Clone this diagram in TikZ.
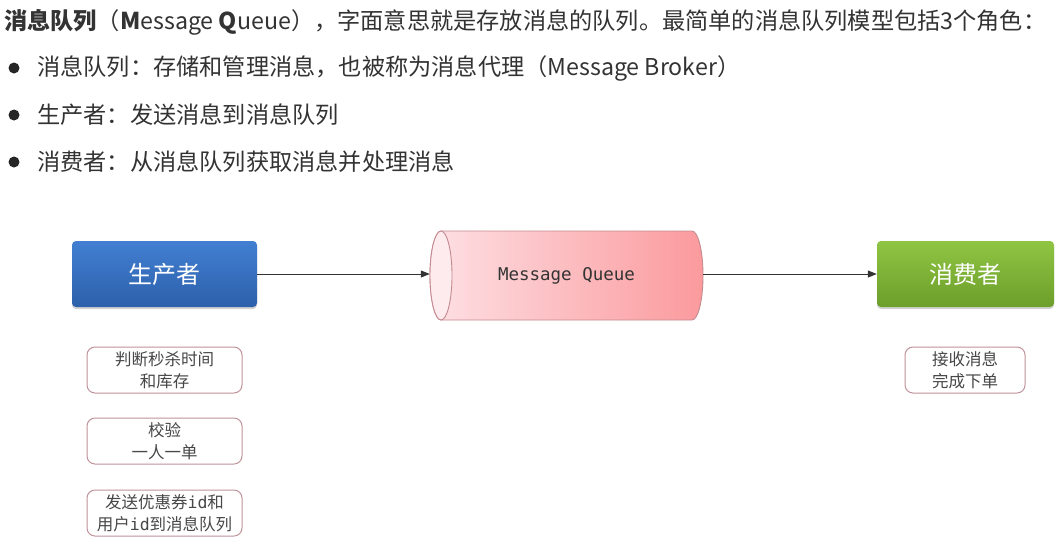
\documentclass[tikz,border=0pt]{standalone}
\usepackage{fontspec}
\setmainfont{Noto Sans CJK SC}
\newfontfamily\monofont{DejaVu Sans Mono}
\usetikzlibrary{arrows.meta,shadows,positioning}

\definecolor{txt}{HTML}{333333}
\definecolor{blueTop}{HTML}{427FD2}
\definecolor{blueBot}{HTML}{2C60AA}
\definecolor{greenTop}{HTML}{8FC543}
\definecolor{greenBot}{HTML}{6C9E2A}
\definecolor{mqLeft}{HTML}{FDE0E4}
\definecolor{mqRight}{HTML}{FB9A9D}
\definecolor{mqCap}{HTML}{FDEBEE}
\definecolor{mqEdge}{HTML}{C48A90}
\definecolor{noteEdge}{HTML}{C0939A}

\tikzset{
  role/.style={rounded corners=4pt, minimum width=185pt, minimum height=66pt,
    text=white, font=\fontsize{24}{28}\selectfont, inner sep=0pt,
    drop shadow={shadow xshift=0pt, shadow yshift=-2pt, opacity=0.35, fill=gray}},
  note/.style={draw=noteEdge, line width=1pt, rounded corners=8pt, fill=white,
    minimum width=155pt, minimum height=46pt, align=center, inner sep=0pt,
    text=txt!90, font=\fontsize{16.5}{22}\selectfont},
  flow/.style={draw=txt, line width=1pt, -{Triangle[length=9pt,width=7pt]}},
  dot/.style={circle, fill=black!85, inner sep=0pt, minimum size=11pt},
  line/.style={anchor=west, inner sep=0pt, text=txt, font=\fontsize{23.2}{27}\selectfont}
}

\begin{document}
\begin{tikzpicture}[x=1pt,y=-1pt]
\useasboundingbox[fill=white] (0,0) rectangle (1062,550);

% heading and bullet list
\node[line] (head) at (4,22) {\textbf{消息队列}（\textbf{M}essage \textbf{Q}ueue），字面意思就是存放消息的队列。最简单的消息队列模型包括3个角色：};
\node[dot] (b1) at (14,68) {};
\node[dot] (b2) at (14,115) {};
\node[dot] (b3) at (14,162) {};
\node[line] (l1) at (37,68) {消息队列：存储和管理消息，也被称为消息代理（Message Broker）};
\node[line] (l2) at (37,115) {生产者：发送消息到消息队列};
\node[line] (l3) at (37,162) {消费者：从消息队列获取消息并处理消息};

% producer and consumer
\node[role, top color=blueTop, bottom color=blueBot] (prod) at (164.5,274) {生产者};
\node[role, top color=greenTop, bottom color=greenBot, minimum width=177pt] (cons) at (965.5,274) {消费者};

% message queue cylinder (lying on its side)
\path[left color=mqLeft, right color=mqRight, draw=mqEdge, line width=0.9pt]
  (441,231) -- (692,231) arc[start angle=90, end angle=-90, x radius=11pt, y radius=44.5pt]
  -- (441,320) arc[start angle=-90, end angle=-270, x radius=11pt, y radius=44.5pt] -- cycle;
\draw[fill=mqCap, draw=mqEdge, line width=0.9pt] (441,275.5) ellipse[x radius=11pt, y radius=44.5pt];
\node[minimum width=273pt, minimum height=89pt, inner sep=0pt, text=txt,
  font=\monofont\fontsize{17.5}{20}\selectfont] (mq) at (566.5,275.5) {Message Queue};

\draw[flow] (prod.east) -- (mq.west |- prod.east);
\draw[flow] (mq.east |- cons.west) -- (cons.west);

% notes under producer and consumer
\node[note] (n1) at (164.5,370) {判断秒杀时间\\和库存};
\node[note] (n2) at (164.5,441) {校验\\一人一单};
\node[note] (n3) at (164.5,513) {发送优惠券{\monofont id}和\\用户{\monofont id}到消息队列};
\node[note, minimum width=120pt] (n4) at (965,370) {接收消息\\完成下单};
\end{tikzpicture}
\end{document}
